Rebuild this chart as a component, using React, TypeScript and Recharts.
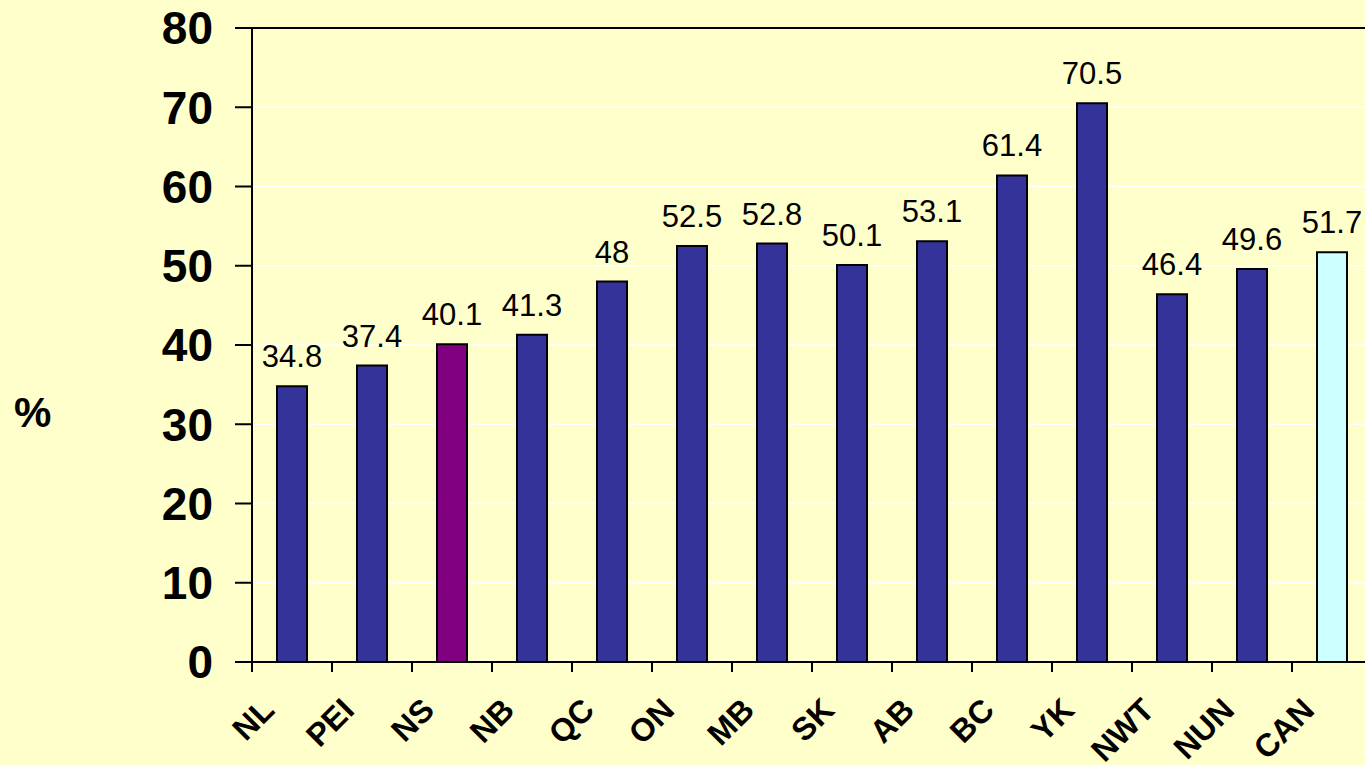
import { BarChart, Bar, XAxis, YAxis, CartesianGrid, ReferenceLine, Cell, LabelList } from "recharts";

const regions = ["NL", "PEI", "NS", "NB", "QC", "ON", "MB", "SK", "AB", "BC", "YK", "NWT", "NUN", "CAN"];
const shares = [34.8, 37.4, 40.1, 41.3, 48, 52.5, 52.8, 50.1, 53.1, 61.4, 70.5, 46.4, 49.6, 51.7];
const yTicks = [0, 10, 20, 30, 40, 50, 60, 70, 80];

const NAVY = "#333399";
const barColors: Record<string, string> = { NS: "#800080", CAN: "#CCFFFF" };

const data = regions.map((name, i) => ({ name, value: shares[i] }));

const FONT = '"Liberation Sans", Arial, sans-serif';
const CHART_W = 1380;
const CHART_H = 765;
const Y_AXIS_W = 252;
const MARGIN = { top: 28, right: 8, left: 0, bottom: 0 };
const BAND = (CHART_W - MARGIN.left - MARGIN.right - Y_AXIS_W) / regions.length;

function XTick(props: any) {
  const { x, y, payload, index } = props;
  const half = BAND / 2;
  const tx = x - 16;
  const ty = y + 50;
  return (
    <g>
      <line x1={x - half} x2={x - half} y1={y} y2={y + 10} stroke="#000" strokeWidth={2} />
      {index === regions.length - 1 && (
        <line x1={x + half} x2={x + half} y1={y} y2={y + 10} stroke="#000" strokeWidth={2} />
      )}
      <text
        x={tx}
        y={ty}
        transform={`rotate(-45, ${tx}, ${ty})`}
        textAnchor="end"
        fontFamily={FONT}
        fontWeight="bold"
        fontSize={32}
        fill="#000"
      >
        {payload.value}
      </text>
    </g>
  );
}

function ValueLabel(props: any) {
  const { x, y, width, value } = props;
  return (
    <text x={x + width / 2} y={y - 19} textAnchor="middle" fontFamily={FONT} fontSize={31} fill="#000">
      {value}
    </text>
  );
}

export default function App() {
  return (
    <div
      style={{
        position: "absolute",
        left: 0,
        top: 0,
        width: 1365,
        height: 765,
        overflow: "hidden",
        background: "#FFFFCC",
      }}
    >
      <BarChart width={CHART_W} height={CHART_H} data={data} margin={MARGIN}>
        <CartesianGrid horizontal vertical={false} stroke="#FFFFFF" strokeWidth={1.5} />
        <XAxis
          dataKey="name"
          interval={0}
          height={103}
          axisLine={{ stroke: "#000", strokeWidth: 2 }}
          tickLine={false}
          tickSize={0}
          tickMargin={0}
          tick={<XTick />}
        />
        <YAxis
          domain={[0, 80]}
          ticks={yTicks}
          width={Y_AXIS_W}
          axisLine={{ stroke: "#000", strokeWidth: 2 }}
          tickLine={{ stroke: "#000", strokeWidth: 2 }}
          tickSize={17}
          tickMargin={22}
          tick={{ fontSize: 46, fontWeight: "bold", fill: "#000", fontFamily: FONT }}
          label={{
            content: () => (
              <text x={14} y={427} fontFamily={FONT} fontWeight="bold" fontSize={42} fill="#000">
                %
              </text>
            ),
          }}
        />
        <ReferenceLine y={80} stroke="#000" strokeWidth={2} />
        <Bar dataKey="value" barSize={30} stroke="#000" strokeWidth={2} isAnimationActive={false}>
          {data.map((d) => (
            <Cell key={d.name} fill={barColors[d.name] ?? NAVY} />
          ))}
          <LabelList dataKey="value" content={<ValueLabel />} />
        </Bar>
      </BarChart>
    </div>
  );
}
